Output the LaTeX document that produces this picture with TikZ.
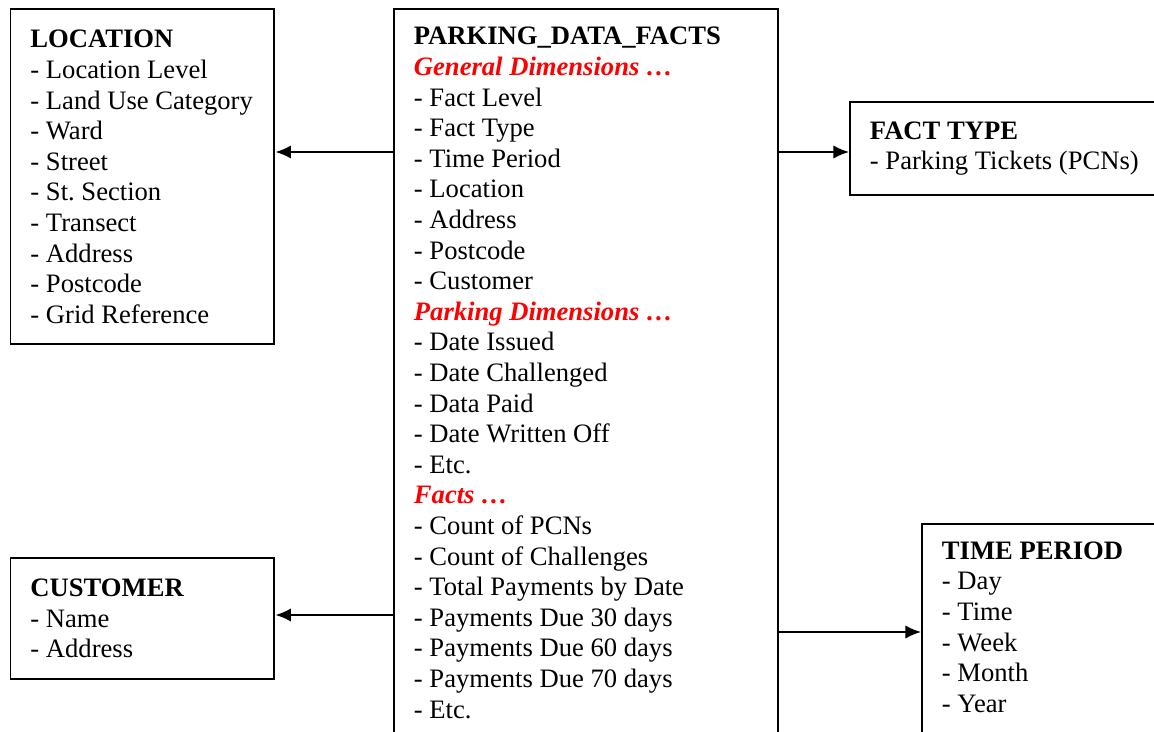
\documentclass[tikz,border=0pt]{standalone}
\usepackage{fontspec}
\setmainfont{Liberation Serif}
\usetikzlibrary{arrows.meta}
\newcommand*{\yUpper}{152}
\newcommand*{\yCust}{615}
\newcommand*{\yTime}{632}
\newcommand*{\dimhead}[1]{\textcolor{red}{\bfseries\itshape #1}}
\newcommand*{\cutoff}{\rule[-40pt]{0pt}{0pt}}
\frenchspacing

\begin{document}
\begin{tikzpicture}[x=0.451pt,y=-0.451pt,
	entity/.style={draw,line width=0.9pt,align=flush left,anchor=north west,
		inner xsep=9pt,inner ysep=8pt,font=\fontsize{12}{13.8}\selectfont},
	link/.style={line width=0.9pt,-{Latex[length=7pt,width=6pt]}}]
	\useasboundingbox (0,0) rectangle (1154,731);
	
	% fact table in the middle
	\node[entity,text width=155pt] (facts) at (393,8.5) {\textbf{PARKING\_DATA\_FACTS}\\
		\dimhead{General Dimensions …}\\
		- Fact Level\\ - Fact Type\\ - Time Period\\ - Location\\ - Address\\ - Postcode\\ - Customer\\
		\dimhead{Parking Dimensions …}\\
		- Date Issued\\ - Date Challenged\\ - Data Paid\\ - Date Written Off\\ - Etc.\\
		\dimhead{Facts …}\\
		- Count of PCNs\\ - Count of Challenges\\ - Total Payments by Date\\
		- Payments Due 30 days\\ - Payments Due 60 days\\ - Payments Due 70 days\\ - Etc.\cutoff};
	
	% dimensions
	\node[entity,text width=101pt,minimum height=151pt] (location) at (9.5,8.5) {\textbf{LOCATION}\\
		- Location Level\\ - Land Use Category\\ - Ward\\ - Street\\ - St. Section\\ - Transect\\
		- Address\\ - Postcode\\ - Grid Reference};
	\node[entity,text width=101pt,minimum height=54.6pt] (customer) at (9.5,557) {\textbf{CUSTOMER}\\
		- Name\\ - Address};
	\node[entity,text width=150pt,minimum height=42pt] (facttype) at (849,101) {\textbf{FACT TYPE}\\
		- Parking Tickets (PCNs)};
	\node[entity,text width=150pt] (timeperiod) at (921,523) {\textbf{TIME PERIOD}\\
		- Day\\ - Time\\ - Week\\ - Month\\ - Year\cutoff};
	
	\draw[link] (facts.west |- 0,\yUpper)--(location.east |- 0,\yUpper);
	\draw[link] (facts.west |- 0,\yCust)--(customer.east |- 0,\yCust);
	\draw[link] (facts.east |- 0,\yUpper)--(facttype.west |- 0,\yUpper);
	\draw[link] (facts.east |- 0,\yTime)--(timeperiod.west |- 0,\yTime);
\end{tikzpicture}
\end{document}
